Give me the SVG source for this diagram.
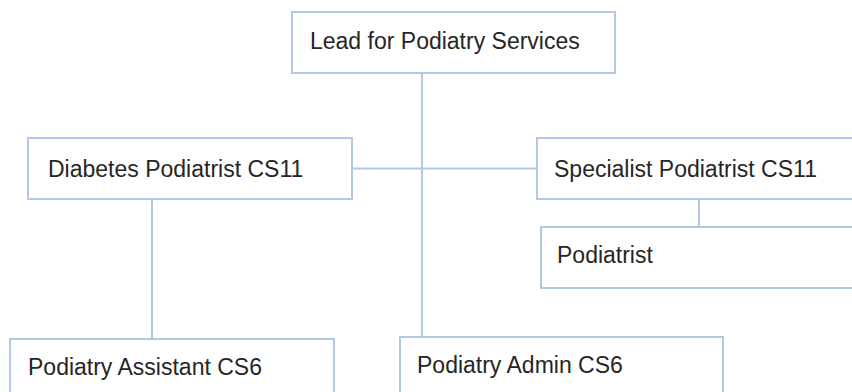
<svg xmlns="http://www.w3.org/2000/svg" width="852" height="392" viewBox="0 0 852 392">
<style>
.box{fill:#ffffff;stroke:#b4c7e7;stroke-width:2}
.ln{stroke:#b4c7e7;stroke-width:2;fill:none}
.t{font-family:"Liberation Sans",Arial,sans-serif;font-size:23px;fill:#262626}
</style>
<rect width="852" height="392" fill="#ffffff"/>
<g id="connectors">
<line class="ln" x1="422" y1="73" x2="422" y2="337"/>
<line class="ln" x1="352" y1="168.5" x2="537" y2="168.5"/>
<line class="ln" x1="152" y1="199" x2="152" y2="339"/>
<line class="ln" x1="699" y1="199" x2="699" y2="227"/>
</g>
<g id="lead">
<rect class="box" x="292" y="12" width="323" height="61"/>
<text class="t" x="310" y="49">Lead for Podiatry Services</text>
</g>
<g id="diabetes">
<rect class="box" x="28" y="138" width="324" height="61"/>
<text class="t" x="48" y="177">Diabetes Podiatrist CS11</text>
</g>
<g id="specialist">
<rect class="box" x="537" y="138" width="340" height="61"/>
<text class="t" x="554" y="177">Specialist Podiatrist CS11</text>
</g>
<g id="podiatrist">
<rect class="box" x="541" y="227" width="340" height="61"/>
<text class="t" x="557" y="263">Podiatrist</text>
</g>
<g id="assistant">
<rect class="box" x="10" y="339" width="324" height="70"/>
<text class="t" x="28" y="375">Podiatry Assistant CS6</text>
</g>
<g id="admin">
<rect class="box" x="400" y="337" width="323" height="70"/>
<text class="t" x="417" y="373">Podiatry Admin CS6</text>
</g>
</svg>
